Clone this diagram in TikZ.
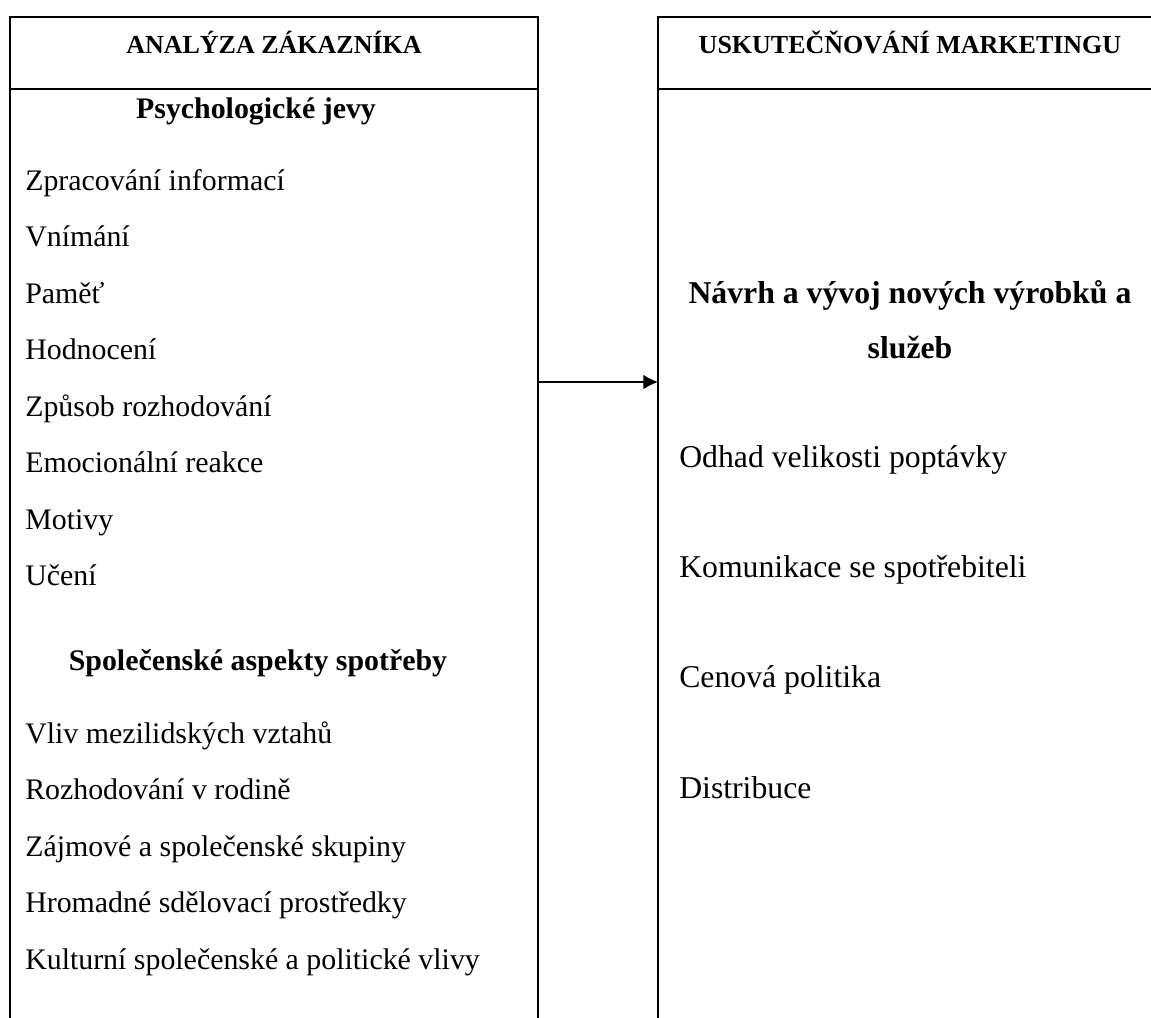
\documentclass[tikz,border=0pt]{standalone}
\usepackage{fontspec}
\setmainfont{Liberation Serif}
\usetikzlibrary{arrows.meta}
\begin{document}
\begin{tikzpicture}[x=0.75pt,y=-0.75pt,
  frame/.style={line width=1.1pt,draw=black},
  hdr/.style={font=\fontsize{19.5}{23}\selectfont\bfseries,anchor=base,inner sep=0pt},
  sub/.style={font=\fontsize{22.4}{26}\selectfont\bfseries,anchor=base,inner sep=0pt},
  subr/.style={font=\fontsize{23.8}{28}\selectfont\bfseries,anchor=base,inner sep=0pt},
  item/.style={font=\fontsize{22.4}{26}\selectfont,anchor=base west,inner sep=0pt},
  itemr/.style={font=\fontsize{23.8}{28}\selectfont,anchor=base west,inner sep=0pt},
  conn/.style={line width=1.1pt,-{Latex[length=11pt,width=11pt]}}]
\useasboundingbox (0,0) rectangle (1151,1017);
\fill[white] (0,0) rectangle (1151,1017);
% left frame
\coordinate (lbl) at (10,1018);
\coordinate (ltl) at (10,17);
\coordinate (ltr) at (538,17);
\coordinate (lbr) at (538,1018);
\draw[frame] (lbl) -- (ltl) -- (ltr) -- (lbr);
\draw[frame] (10,89) -- (538,89);
% right frame
\coordinate (rbl) at (658,1018);
\coordinate (rtl) at (658,17);
\coordinate (rtr) at (1152,17);
\draw[frame] (rbl) -- (rtl) -- (rtr);
\draw[frame] (658,89) -- (1152,89);
% headers
\node[hdr] (h1) at (274,53) {ANALÝZA ZÁKAZNÍKA};
\node[hdr] (h2) at (910,53) {USKUTEČŇOVÁNÍ MARKETINGU};
% left column
\node[sub] (s1) at (256,118) {Psychologické jevy};
\node[item] (l1) at (25,190) {Zpracování informací};
\node[item] (l2) at (25,246.5) {Vnímání};
\node[item] (l3) at (25,303) {Paměť};
\node[item] (l4) at (25,359.5) {Hodnocení};
\node[item] (l5) at (25,416) {Způsob rozhodování};
\node[item] (l6) at (25,472.5) {Emocionální reakce};
\node[item] (l7) at (25,529) {Motivy};
\node[item] (l8) at (25,585.5) {Učení};
\node[sub] (s2) at (258,670) {Společenské aspekty spotřeby};
\node[item] (m1) at (25,743) {Vliv mezilidských vztahů};
\node[item] (m2) at (25,799.5) {Rozhodování v rodině};
\node[item] (m3) at (25,856) {Zájmové a společenské skupiny};
\node[item] (m4) at (25,912.5) {Hromadné sdělovací prostředky};
\node[item] (m5) at (25,969) {Kulturní společenské a politické vlivy};
% right column
\node[subr] (r0a) at (910,303) {Návrh a vývoj nových výrobků a};
\node[subr] (r0b) at (910,358) {služeb};
\node[itemr] (r1) at (679,467) {Odhad velikosti poptávky};
\node[itemr] (r2) at (679,577) {Komunikace se spotřebiteli};
\node[itemr] (r3) at (679,687) {Cenová politika};
\node[itemr] (r4) at (679,798) {Distribuce};
% connector
\coordinate (a1) at (538,382);
\coordinate (a2) at (658,382);
\draw[conn] (a1) -- (a2);
\end{tikzpicture}
\end{document}
